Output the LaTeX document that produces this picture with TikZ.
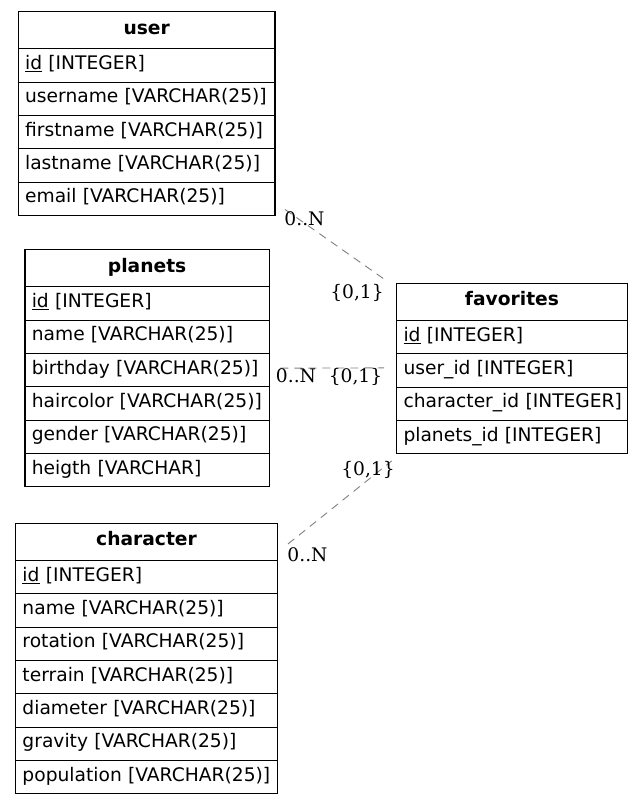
\documentclass[tikz,border=0pt]{standalone}
\usepackage{fontspec}
\newfontfamily\tsans{DejaVu Sans}
\newfontfamily\tserif{DejaVu Serif}
\usetikzlibrary{calc}
\begin{document}
\begin{tikzpicture}[x=1pt,y=-1pt,
  cellbase/.style={draw=black, line width=1.1pt, anchor=north west, inner xsep=6.8pt, inner ysep=0pt, outer sep=0pt,
     text height=12pt, text depth=4pt, font=\tsans\fontsize{18.67}{22}\selectfont},
  hdr/.style={cellbase, minimum width=#1, minimum height=37.3pt, align=center, font=\tsans\bfseries\fontsize{18.67}{22}\selectfont},
  fld/.style={cellbase, minimum width=#1, minimum height=33.33pt, text width=#1-13.6pt, align=left},
  rel/.style={draw=gray, line width=0.9pt, dash pattern=on 8pt off 6pt},
  card/.style={anchor=base, inner sep=0pt, font=\tserif\fontsize{18.67}{22}\selectfont}]
\useasboundingbox (0,0) rectangle (643,804);
\fill[white] (0,0) rectangle (643,804);

% user
\node[hdr=256.7pt] (uh) at (18.3,11.5) {user};
\node[fld=256.7pt] (uid) at (uh.south west) {\mbox{\underline{id} [INTEGER]}};
\node[fld=256.7pt] (uuser) at (uid.south west) {\mbox{username [VARCHAR(25)]}};
\node[fld=256.7pt] (ufirst) at (uuser.south west) {\mbox{firstname [VARCHAR(25)]}};
\node[fld=256.7pt] (ulast) at (ufirst.south west) {\mbox{lastname [VARCHAR(25)]}};
\node[fld=256.7pt] (uemail) at (ulast.south west) {\mbox{email [VARCHAR(25)]}};

% planets
\node[hdr=244.3pt] (ph) at (25,249.5) {planets};
\node[fld=244.3pt] (pid) at (ph.south west) {\mbox{\underline{id} [INTEGER]}};
\node[fld=244.3pt] (pname) at (pid.south west) {\mbox{name [VARCHAR(25)]}};
\node[fld=244.3pt] (pbirth) at (pname.south west) {\mbox{birthday [VARCHAR(25)]}};
\node[fld=244.3pt] (phair) at (pbirth.south west) {\mbox{haircolor [VARCHAR(25)]}};
\node[fld=244.3pt] (pgender) at (phair.south west) {\mbox{gender [VARCHAR(25)]}};
\node[fld=244.3pt] (pheight) at (pgender.south west) {\mbox{heigth [VARCHAR]}};

% favorites
\node[hdr=230.6pt] (fh) at (396.7,283.3) {favorites};
\node[fld=230.6pt] (fid) at (fh.south west) {\mbox{\underline{id} [INTEGER]}};
\node[fld=230.6pt] (fuser) at (fid.south west) {\mbox{user\_id [INTEGER]}};
\node[fld=230.6pt] (fchar) at (fuser.south west) {\mbox{character\_id [INTEGER]}};
\node[fld=230.6pt] (fplan) at (fchar.south west) {\mbox{planets\_id [INTEGER]}};

% character
\node[hdr=261.6pt] (ch) at (15.7,523.3) {character};
\node[fld=261.6pt] (cid) at (ch.south west) {\mbox{\underline{id} [INTEGER]}};
\node[fld=261.6pt] (cname) at (cid.south west) {\mbox{name [VARCHAR(25)]}};
\node[fld=261.6pt] (crot) at (cname.south west) {\mbox{rotation [VARCHAR(25)]}};
\node[fld=261.6pt] (cterr) at (crot.south west) {\mbox{terrain [VARCHAR(25)]}};
\node[fld=261.6pt] (cdiam) at (cterr.south west) {\mbox{diameter [VARCHAR(25)]}};
\node[fld=261.6pt] (cgrav) at (cdiam.south west) {\mbox{gravity [VARCHAR(25)]}};
\node[fld=261.6pt] (cpop) at (cgrav.south west) {\mbox{population [VARCHAR(25)]}};

% connectors
\coordinate (e1a) at ([xshift=10pt,yshift=6pt]uemail.south east);
\coordinate (e1b) at ([xshift=-12.7pt,yshift=4.3pt]fh.north west);
\coordinate (e2a) at ([xshift=11pt,yshift=2pt]pbirth.east);
\coordinate (e2b) at ([xshift=-12.7pt,yshift=2.7pt]fuser.west);
\coordinate (e3a) at ([xshift=10.7pt,yshift=-2pt]ch.east);
\coordinate (e3b) at ([xshift=-5pt,yshift=-7pt]fplan.south west);
\draw[rel] (e1a) -- (e1b);
\draw[rel] (e2a) -- (e2b);
\draw[rel] (e3a) -- (e3b);

% cardinalities
\node[card] (l1a) at (304.5,225) {0..N};
\node[card] (l1b) at (357,298) {\{0,1\}};
\node[card] (l2a) at (296,382.3) {0..N};
\node[card] (l2b) at (355.5,382.3) {\{0,1\}};
\node[card] (l3a) at (368,475.5) {\{0,1\}};
\node[card] (l3b) at (307.5,561) {0..N};
\end{tikzpicture}
\end{document}
